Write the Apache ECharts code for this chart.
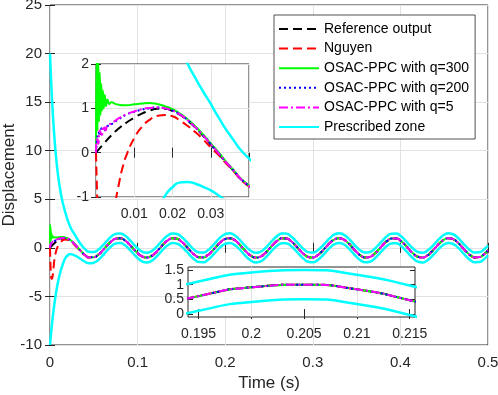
<!DOCTYPE html>
<html><head><meta charset="utf-8">
<script src="https://cdn.jsdelivr.net/npm/echarts@6/dist/echarts.min.js"></script>
<style>html,body{margin:0;padding:0;background:#fff}#c{width:498px;height:395px}</style>
</head><body><div id="c"></div>
<script>
// ---------- data ----------
const seriesNames = ['Reference output','Nguyen','OSAC-PPC with q=300','OSAC-PPC with q=200','OSAC-PPC with q=5','Prescribed zone'];

// steady part, shared time samples (s)
const steadyT = [0.045,0.05,0.055,0.06,0.065,0.07,0.075,0.08,0.085,0.09,0.095,0.1,0.105,0.11,0.115,0.12,0.125,0.13,0.135,0.14,0.145,0.15,0.155,0.16,0.165,0.17,0.175,0.18,0.185,0.19,0.195,0.2,0.205,0.21,0.215,0.22,0.225,0.23,0.235,0.24,0.245,0.25,0.255,0.26,0.265,0.27,0.275,0.28,0.285,0.29,0.295,0.3,0.305,0.31,0.315,0.32,0.325,0.33,0.335,0.34,0.345,0.35,0.355,0.36,0.365,0.37,0.375,0.38,0.385,0.39,0.395,0.4,0.405,0.41,0.415,0.42,0.425,0.43,0.435,0.44,0.445,0.45,0.455,0.46,0.465,0.47,0.475,0.48,0.485,0.49,0.495,0.5];
const outputSteady = [-0.98,-0.96,-0.71,-0.28,0.22,0.66,0.94,0.99,0.80,0.41,
 -0.08,-0.54,-0.88,-1.00,-0.88,-0.54,-0.07,0.42,0.80,0.99,
 0.93,0.65,0.21,-0.29,-0.71,-0.96,-0.98,-0.75,-0.34,0.15,
 0.61,0.91,1.00,0.84,0.47,-0.01,-0.49,-0.85,-1.00,-0.91,
 -0.59,-0.13,0.36,0.76,0.98,0.96,0.70,0.27,-0.22,-0.66,
 -0.94,-0.99,-0.79,-0.40,0.08,0.55,0.88,1.00,0.87,0.53,
 0.06,-0.43,-0.81,-0.99,-0.93,-0.64,-0.20,0.30,0.72,0.96,
 0.97,0.75,0.33,-0.16,-0.61,-0.92,-1.00,-0.83,-0.46,0.02,
 0.49,0.85,1.00,0.90,0.59,0.12,-0.37,-0.77,-0.98,-0.95,
 -0.69,-0.26];
const upperSteady = [-0.41,-0.42,-0.19,0.22,0.72,1.16,1.44,1.49,1.30,0.91,
 0.42,-0.04,-0.38,-0.50,-0.38,-0.04,0.43,0.92,1.30,1.49,
 1.43,1.15,0.71,0.21,-0.21,-0.46,-0.48,-0.25,0.16,0.65,
 1.11,1.41,1.50,1.34,0.97,0.49,0.01,-0.35,-0.50,-0.41,
 -0.09,0.37,0.86,1.26,1.48,1.46,1.20,0.77,0.28,-0.16,
 -0.44,-0.49,-0.29,0.10,0.58,1.05,1.38,1.50,1.37,1.03,
 0.56,0.07,-0.31,-0.49,-0.43,-0.14,0.30,0.80,1.22,1.46,
 1.47,1.25,0.83,0.34,-0.11,-0.42,-0.50,-0.33,0.04,0.52,
 0.99,1.35,1.50,1.40,1.09,0.62,0.13,-0.27,-0.48,-0.45,
 -0.19,0.24];
const lowerSteady = [-1.59,-1.52,-1.25,-0.80,-0.29,0.16,0.44,0.49,0.30,-0.09,
 -0.58,-1.04,-1.38,-1.50,-1.38,-1.04,-0.57,-0.08,0.30,0.49,
 0.43,0.15,-0.29,-0.79,-1.21,-1.46,-1.48,-1.25,-0.84,-0.35,
 0.11,0.41,0.50,0.34,-0.03,-0.51,-0.99,-1.35,-1.50,-1.41,
 -1.09,-0.63,-0.14,0.26,0.48,0.46,0.20,-0.23,-0.72,-1.16,
 -1.44,-1.49,-1.29,-0.90,-0.42,0.05,0.38,0.50,0.37,0.03,
 -0.44,-0.93,-1.31,-1.49,-1.43,-1.14,-0.70,-0.20,0.22,0.46,
 0.47,0.25,-0.17,-0.66,-1.11,-1.42,-1.50,-1.33,-0.96,-0.48,
 -0.01,0.35,0.50,0.40,0.09,-0.38,-0.87,-1.27,-1.48,-1.45,
 -1.19,-0.76];

// transient part (0 - 0.04 s)
const zoneT = [0,0.001,0.002,0.003,0.004,0.005,0.006,0.007,0.008,0.009,0.01,0.012,0.014,0.016,0.018,0.02,0.022,0.024,0.026,0.028,0.03,0.032,0.035,0.04];
const upperEarly = [20,17.81,15.89,14.2,12.72,11.42,10.27,9.27,8.39,7.61,6.93,5.78,4.88,4.14,3.5,2.9,2.42,2.0,1.68,1.38,1.1,0.8,0.4,-0.13];
const lowerEarly = [-10,-9.0,-8.08,-7.24,-6.48,-5.78,-5.15,-4.58,-4.05,-3.58,-3.15,-2.43,-1.85,-1.35,-0.98,-0.78,-0.67,-0.66,-0.7,-0.77,-0.85,-0.96,-1.15,-1.43];

const refT = [0,0.002,0.004,0.006,0.008,0.01,0.012,0.014,0.016,0.018,0.02,0.022,0.024,0.026,0.028,0.03,0.032,0.035,0.04];
const refV = [0,0.2,0.39,0.55,0.68,0.79,0.88,0.95,0.99,0.99,0.94,0.85,0.72,0.56,0.38,0.18,-0.02,-0.32,-0.75];

const nguyenT = [0,0.0005,0.001,0.0015,0.002,0.003,0.004,0.005,0.006,0.007,0.008,0.01,0.012,0.014,0.016,0.018,0.02,0.022,0.024,0.026,0.028,0.03,0.032,0.035,0.04];
const nguyenV = [0,-1.5,-2.6,-3.1,-3.2,-2.9,-2.1,-1.2,-0.7,-0.32,-0.05,0.33,0.58,0.74,0.83,0.85,0.82,0.72,0.6,0.46,0.3,0.12,-0.05,-0.33,-0.76];

const q300T = [0,0.0002,0.0004,0.0006,0.0008,0.001,0.0012,0.0014,0.0016,0.0018,0.002,0.0023,0.0026,0.003,0.0035,0.004,0.005,0.006,0.007,0.008,0.01,0.012,0.014,0.016,0.018,0.02,0.022,0.024,0.026,0.028,0.03,0.032,0.035,0.04];
const q300V = [0,2.4,0.5,2.1,0.7,1.8,0.85,1.55,0.95,1.4,1.0,1.3,1.05,1.2,1.1,1.14,1.1,1.08,1.07,1.07,1.09,1.11,1.12,1.1,1.05,0.98,0.88,0.75,0.59,0.41,0.21,0.01,-0.3,-0.74];

const qLowT = [0,0.0003,0.0006,0.001,0.0015,0.002,0.0025,0.003,0.004,0.005,0.006,0.008,0.01,0.012,0.014,0.016,0.018,0.02,0.022,0.024,0.026,0.028,0.03,0.032,0.035,0.04];
const q200V = [0,0.3,0.45,0.38,0.55,0.5,0.58,0.6,0.64,0.7,0.76,0.86,0.92,0.97,1.0,1.02,1.0,0.95,0.86,0.73,0.57,0.39,0.19,-0.01,-0.31,-0.75];
const q5V = [0,0.35,0.2,0.5,0.4,0.6,0.5,0.62,0.66,0.72,0.78,0.87,0.93,0.98,1.01,1.02,1.0,0.95,0.86,0.73,0.57,0.39,0.19,-0.01,-0.31,-0.75];

// axis ticks
const mainXTicks = [0,0.5,0.1];
const mainYTicks = [-10,25,5];
const inset1X = [0,0.04,0.01];
const inset1Y = [-1,2,1];
const inset2XRange = [0.194,0.2155];
const inset2XTicks = [0.195,0.2,0.205,0.21,0.215];
const inset2YRange = [-0.1,1.6];
const inset2YTicks = [0,0.5,1,1.5];

// ---------- chart ----------
const zip = (t, v) => t.map((x, i) => [x, v[i]]);
const lines = [
  {name: seriesNames[0], data: zip(refT, refV).concat(zip(steadyT, outputSteady)), style: {color:'#000000', type:[9,5], width:2}},
  {name: seriesNames[1], data: zip(nguyenT, nguyenV).concat(zip(steadyT, outputSteady)), style: {color:'#ff0000', type:[9,5], width:2}},
  {name: seriesNames[2], data: zip(q300T, q300V).concat(zip(steadyT, outputSteady)), style: {color:'#00ff00', type:'solid', width:2}},
  {name: seriesNames[3], data: zip(qLowT, q200V).concat(zip(steadyT, outputSteady)), style: {color:'#0000ff', type:[2,3], width:2}},
  {name: seriesNames[4], data: zip(qLowT, q5V).concat(zip(steadyT, outputSteady)), style: {color:'#ff00ff', type:[9,3,2,3], width:2}},
  {name: seriesNames[5], data: zip(zoneT, upperEarly).concat(zip(steadyT, upperSteady)), style: {color:'#00ffff', type:'solid', width:2.5}},
  {name: seriesNames[5], data: zip(zoneT, lowerEarly).concat(zip(steadyT, lowerSteady)), style: {color:'#00ffff', type:'solid', width:2.5}}
];

const font = "'Liberation Sans', Arial, Helvetica, sans-serif";
const ax = '#262626';
const gl = '#e2e2e2';
const tick = () => ({inside: true, length: 5, lineStyle: {color: ax, width: 1}});

const series = [];
for (let g = 0; g < 3; g++) {
  lines.forEach(l => {
    series.push({
      type: 'line', name: l.name, data: l.data,
      xAxisIndex: 2*g, yAxisIndex: 2*g,
      showSymbol: false, symbol: 'none', smooth: 0.6,
      color: l.style.color, lineStyle: l.style, clip: true, silent: true,
      z: g === 0 ? 2 : 6
    });
  });
}
// vertical grid lines of the lower inset
series.push({
  type: 'line', xAxisIndex: 4, yAxisIndex: 4, data: [], z: 5, silent: true,
  markLine: {silent: true, symbol: ['none','none'], label: {show: false}, animation: false,
    lineStyle: {color: gl, width: 1, type: 'solid'},
    data: inset2XTicks.map(v => ({xAxis: v}))}
});

const gridBase = {show: true, backgroundColor: '#fff', borderColor: ax, borderWidth: 1, containLabel: false, outerBoundsMode: 'none'};
const option = {
  animation: false,
  textStyle: {fontFamily: font},
  grid: [
    Object.assign({left: 50, top: 5, width: 438, height: 340, z: 0}, gridBase),
    Object.assign({left: 96, top: 64, width: 153, height: 133, z: 3}, gridBase),
    Object.assign({left: 188, top: 267, width: 227, height: 50, z: 3}, gridBase)
  ],
  legend: {
    orient: 'vertical', left: 274, top: 15, padding: [7, 6, 5, 4],
    itemWidth: 40, itemHeight: 14, itemGap: 5.6,
    backgroundColor: '#fff', borderColor: ax, borderWidth: 0.8, borderRadius: 0,
    itemStyle: {opacity: 0},
    textStyle: {fontSize: 14, color: '#000', fontFamily: font},
    data: seriesNames, selectedMode: false, z: 20
  },
  xAxis: [
    {gridIndex: 0, type: 'value', min: mainXTicks[0], max: mainXTicks[1], interval: mainXTicks[2], position: 'bottom',
     name: 'Time (s)', nameLocation: 'middle', nameGap: 30, nameMoveOverlap: false,
     nameTextStyle: {fontSize: 17, color: ax, fontFamily: font},
     axisLine: {show: false}, axisTick: tick(), axisLabel: {fontSize: 15, color: ax, margin: 10, fontFamily: font},
     splitLine: {show: true, lineStyle: {color: gl, width: 1}}},
    {gridIndex: 0, type: 'value', min: mainXTicks[0], max: mainXTicks[1], interval: mainXTicks[2], position: 'top',
     axisLine: {show: false}, axisTick: tick(), axisLabel: {show: false}, splitLine: {show: false}},
    {gridIndex: 1, type: 'value', min: inset1X[0], max: inset1X[1], interval: inset1X[2], position: 'bottom', z: 4,
     axisLine: {show: false}, axisTick: tick(),
     axisLabel: {fontSize: 14, color: ax, margin: 10, showMinLabel: false, showMaxLabel: false, fontFamily: font},
     splitLine: {show: true, lineStyle: {color: gl, width: 1}}},
    {gridIndex: 1, type: 'value', min: inset1X[0], max: inset1X[1], interval: inset1X[2], position: 'top', z: 4,
     axisLine: {show: false}, axisTick: tick(), axisLabel: {show: false}, splitLine: {show: false}},
    {gridIndex: 2, type: 'value', min: inset2XRange[0], max: inset2XRange[1], position: 'bottom', z: 4,
     axisLine: {show: false}, axisTick: Object.assign(tick(), {customValues: inset2XTicks}),
     axisLabel: {fontSize: 14, color: ax, margin: 10, customValues: inset2XTicks, fontFamily: font},
     splitLine: {show: false}},
    {gridIndex: 2, type: 'value', min: inset2XRange[0], max: inset2XRange[1], position: 'top', z: 4,
     axisLine: {show: false}, axisTick: Object.assign(tick(), {customValues: inset2XTicks}), axisLabel: {show: false}, splitLine: {show: false}}
  ],
  yAxis: [
    {gridIndex: 0, type: 'value', min: mainYTicks[0], max: mainYTicks[1], interval: mainYTicks[2], position: 'left',
     name: 'Displacement', nameLocation: 'middle', nameGap: 32, nameRotate: 90, nameMoveOverlap: false,
     nameTextStyle: {fontSize: 17, color: ax, fontFamily: font},
     axisLine: {show: false}, axisTick: tick(), axisLabel: {fontSize: 15, color: ax, margin: 8, fontFamily: font},
     splitLine: {show: true, lineStyle: {color: gl, width: 1}}},
    {gridIndex: 0, type: 'value', min: mainYTicks[0], max: mainYTicks[1], interval: mainYTicks[2], position: 'right',
     axisLine: {show: false}, axisTick: tick(), axisLabel: {show: false}, splitLine: {show: false}},
    {gridIndex: 1, type: 'value', min: inset1Y[0], max: inset1Y[1], interval: inset1Y[2], position: 'left', z: 4,
     axisLine: {show: false}, axisTick: tick(), axisLabel: {fontSize: 14, color: ax, margin: 7, fontFamily: font},
     splitLine: {show: true, lineStyle: {color: gl, width: 1}}},
    {gridIndex: 1, type: 'value', min: inset1Y[0], max: inset1Y[1], interval: inset1Y[2], position: 'right', z: 4,
     axisLine: {show: false}, axisTick: tick(), axisLabel: {show: false}, splitLine: {show: false}},
    {gridIndex: 2, type: 'value', min: inset2YRange[0], max: inset2YRange[1], position: 'left', z: 4,
     axisLine: {show: false}, axisTick: Object.assign(tick(), {customValues: inset2YTicks}),
     axisLabel: {fontSize: 14, color: ax, margin: 4, customValues: inset2YTicks, fontFamily: font},
     splitLine: {show: false}},
    {gridIndex: 2, type: 'value', min: inset2YRange[0], max: inset2YRange[1], position: 'right', z: 4,
     axisLine: {show: false}, axisTick: Object.assign(tick(), {customValues: inset2YTicks}), axisLabel: {show: false}, splitLine: {show: false}}
  ],
  series: series
};

const chart = echarts.init(document.getElementById('c'), null, {renderer: 'canvas'});
chart.setOption(option);
</script>
</body></html>
